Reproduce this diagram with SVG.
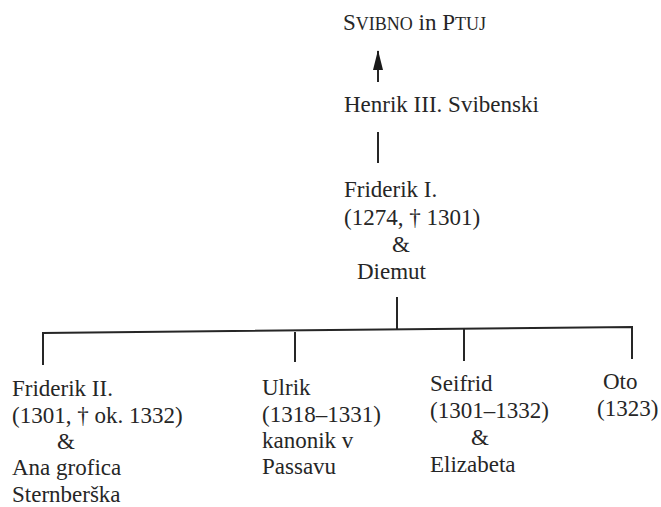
<svg xmlns="http://www.w3.org/2000/svg" width="661" height="507" viewBox="0 0 661 507">
<style>
text{font-size:23px;fill:#262626}
.sc{font-size:18px}
.ln{stroke:#262626;stroke-width:2;fill:none}
</style>
<defs>
<marker id="ah" markerWidth="20" markerHeight="10" refX="19" refY="5" orient="auto" markerUnits="userSpaceOnUse" viewBox="0 0 20 10">
<polygon points="20,5 0,0 0,10" fill="#1a1a1a"/>
</marker>
</defs>
<rect width="661" height="507" fill="#fff"/>
<g font-family="Liberation Serif, Times New Roman, serif">
<g id="title"><text x="343" y="30">S<tspan class="sc">VIBNO</tspan> in P<tspan class="sc">TUJ</tspan></text></g>
<g id="henrik"><text x="344" y="112">Henrik III. Svibenski</text></g>
<g id="friderik1">
<text x="344" y="197">Friderik I.</text>
<text x="344" y="225">(1274, † 1301)</text>
<text x="401" y="252" text-anchor="middle">&amp;</text>
<text x="357" y="279">Diemut</text>
</g>
<g id="friderik2">
<text x="12" y="396">Friderik II.</text>
<text x="12" y="423">(1301, † ok. 1332)</text>
<text x="66" y="449" text-anchor="middle">&amp;</text>
<text x="12" y="475">Ana grofica</text>
<text x="12" y="502">Sternberška</text>
</g>
<g id="ulrik">
<text x="262" y="395">Ulrik</text>
<text x="262" y="422">(1318–1331)</text>
<text x="262" y="448">kanonik v</text>
<text x="262" y="474">Passavu</text>
</g>
<g id="seifrid">
<text x="430" y="391">Seifrid</text>
<text x="430" y="418">(1301–1332)</text>
<text x="480" y="445" text-anchor="middle">&amp;</text>
<text x="430" y="472">Elizabeta</text>
</g>
<g id="oto">
<text x="603" y="389">Oto</text>
<text x="597" y="416">(1323)</text>
</g>
</g>
<g id="connectors">
<line class="ln" x1="378" y1="82" x2="378" y2="51" marker-end="url(#ah)"/>
<line class="ln" x1="378" y1="132" x2="378" y2="163"/>
<line class="ln" x1="397" y1="297" x2="397" y2="330"/>
<polyline class="ln" points="43,365 43,333 632,327 632,359"/>
<line class="ln" x1="295" y1="332" x2="295" y2="362"/>
<line class="ln" x1="464" y1="329" x2="464" y2="361"/>
</g>
</svg>
